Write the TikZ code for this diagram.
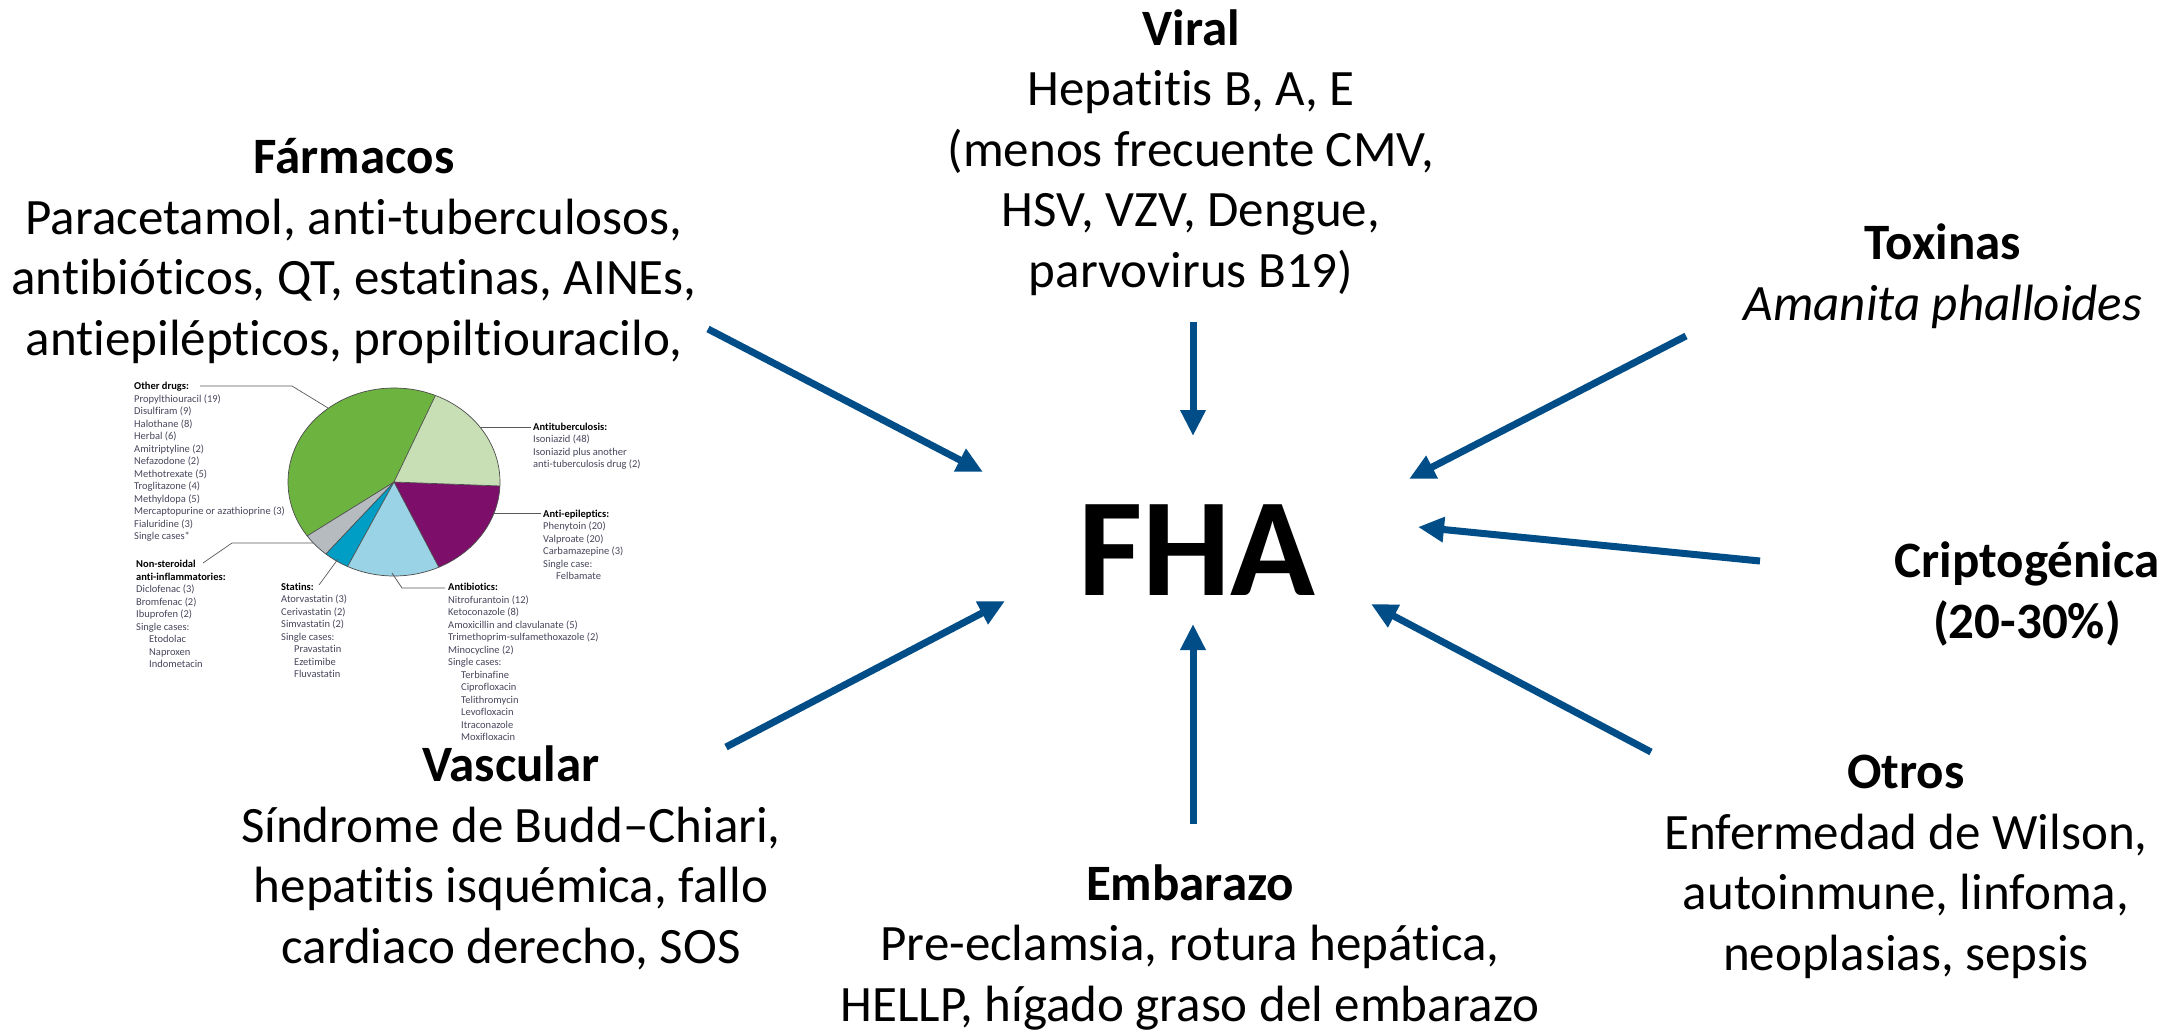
\documentclass[tikz,border=0pt]{standalone}
\usepackage{fontspec}
\setmainfont{Carlito}[Ligatures=NoCommon]
\usetikzlibrary{arrows.meta}

\definecolor{flecha}{RGB}{0,77,136}
\definecolor{verde}{RGB}{109,179,63}
\definecolor{verdeclaro}{RGB}{200,223,181}
\definecolor{morado}{RGB}{125,15,107}
\definecolor{celeste}{RGB}{154,211,229}
\definecolor{turquesa}{RGB}{0,157,196}
\definecolor{grisclaro}{RGB}{181,187,191}
\definecolor{txtgris}{RGB}{70,70,92}

\begin{document}
\begin{tikzpicture}[x=1pt,y=-1pt,
    causa/.style={anchor=base,align=center,inner sep=0pt,font=\fontsize{51}{60.5}\selectfont},
    flechaazul/.style={flecha,line width=7pt,-{Triangle[length=26pt,width=24pt]}},
    etiq/.style={anchor=base west,align=left,inner sep=0pt,font=\fontsize{10.5}{12.5}\selectfont,text=txtgris},
    borde/.style={draw=black!70,line width=0.7pt},
    guia/.style={black!65,line width=0.7pt}]
    \useasboundingbox (0,0) rectangle (2176,1031);

    % centro
    \node[font=\fontsize{140}{140}\selectfont\bfseries] (fha) at (1197,550) {FHA};

    % causas (base = ultima linea)
    \node[causa] (viral) at (1191,287) {\textbf{Viral}\\Hepatitis B, A, E\\(menos frecuente CMV,\\HSV, VZV, Dengue,\\parvovirus B19)};
    \node[causa] (farmacos) at (354,355) {\textbf{Fármacos}\\Paracetamol, anti-tuberculosos,\\antibióticos, QT, estatinas, AINEs,\\antiepilépticos, propiltiouracilo,};
    \node[causa] (toxinas) at (1943,320) {\textbf{Toxinas}\\\textit{Amanita phalloides}};
    \node[causa] (cripto) at (2027,638) {\textbf{Criptogénica}\\\textbf{(20-30\%)}};
    \node[causa] (otros) at (1906,970) {\textbf{Otros}\\Enfermedad de Wilson,\\autoinmune, linfoma,\\neoplasias, sepsis};
    \node[causa] (embarazo) at (1190,1021) {\textbf{Embarazo}\\Pre-eclamsia, rotura hepática,\\HELLP, hígado graso del embarazo};
    \node[causa] (vascular) at (511,963) {\textbf{Vascular}\\Síndrome de Budd--Chiari,\\hepatitis isquémica, fallo\\cardiaco derecho, SOS};

    % flechas
    \coordinate (farmA) at (708,329);  \coordinate (farmB) at (983,472);
    \coordinate (viraA) at (1193,322); \coordinate (viraB) at (1193,436);
    \coordinate (toxA) at (1686,336);  \coordinate (toxB) at (1409,479);
    \coordinate (cripA) at (1760,561); \coordinate (cripB) at (1418,527);
    \coordinate (otrA) at (1651,752);  \coordinate (otrB) at (1371,604);
    \coordinate (embA) at (1193,824);  \coordinate (embB) at (1193,624);
    \coordinate (vasA) at (726,747);   \coordinate (vasB) at (1005,601);
    \draw[flechaazul] (farmA) -- (farmB);
    \draw[flechaazul] (viraA) -- (viraB);
    \draw[flechaazul] (toxA) -- (toxB);
    \draw[flechaazul] (cripA) -- (cripB);
    \draw[flechaazul] (otrA) -- (otrB);
    \draw[flechaazul] (embA) -- (embB);
    \draw[flechaazul] (vasA) -- (vasB);

    % tarta de farmacos
    \begin{scope}[shift={(394,482)},y=1pt]
        \fill[verde] (0,0) -- (67:106 and 94) arc[start angle=67,end angle=215,x radius=106,y radius=94] -- cycle;
        \fill[grisclaro] (0,0) -- (215:106 and 94) arc[start angle=215,end angle=230,x radius=106,y radius=94] -- cycle;
        \fill[turquesa] (0,0) -- (230:106 and 94) arc[start angle=230,end angle=244,x radius=106,y radius=94] -- cycle;
        \fill[celeste] (0,0) -- (244:106 and 94) arc[start angle=244,end angle=295,x radius=106,y radius=94] -- cycle;
        \fill[morado] (0,0) -- (295:106 and 94) arc[start angle=295,end angle=357.6,x radius=106,y radius=94] -- cycle;
        \fill[verdeclaro] (0,0) -- (357.6:106 and 94) arc[start angle=357.6,end angle=427,x radius=106,y radius=94] -- cycle;
        \foreach \a in {67,215,230,244,295,357.6}
            \draw[borde] (0,0) -- (\a:106 and 94);
        \draw[borde] (0,0) ellipse [x radius=106,y radius=94];
    \end{scope}

    \node[etiq] (otras) at (134,539.5) {\textbf{\color{black}Other drugs:}\\Propylthiouracil (19)\\Disulfiram (9)\\Halothane (8)\\Herbal (6)\\Amitriptyline (2)\\Nefazodone (2)\\Methotrexate (5)\\Troglitazone (4)\\Methyldopa (5)\\Mercaptopurine or azathioprine (3)\\Fialuridine (3)\\Single cases*};
    \node[etiq] (antitb) at (533,467.5) {\textbf{\color{black}Antituberculosis:}\\Isoniazid (48)\\Isoniazid plus another\\anti-tuberculosis drug (2)};
    \node[etiq] (antiep) at (543,579.5) {\textbf{\color{black}Anti-epileptics:}\\Phenytoin (20)\\Valproate (20)\\Carbamazepine (3)\\Single case:\\\hspace*{13pt}Felbamate};
    \node[etiq] (aines) at (136,667.5) {\textbf{\color{black}Non-steroidal}\\\textbf{\color{black}anti-inflammatories:}\\Diclofenac (3)\\Bromfenac (2)\\Ibuprofen (2)\\Single cases:\\\hspace*{13pt}Etodolac\\\hspace*{13pt}Naproxen\\\hspace*{13pt}Indometacin};
    \node[etiq] (estatinas) at (281,677.5) {\textbf{\color{black}Statins:}\\Atorvastatin (3)\\Cerivastatin (2)\\Simvastatin (2)\\Single cases:\\\hspace*{13pt}Pravastatin\\\hspace*{13pt}Ezetimibe\\\hspace*{13pt}Fluvastatin};
    \node[etiq] (antibio) at (448,740.5) {\textbf{\color{black}Antibiotics:}\\Nitrofurantoin (12)\\Ketoconazole (8)\\Amoxicillin and clavulanate (5)\\Trimethoprim-sulfamethoxazole (2)\\Minocycline (2)\\Single cases:\\\hspace*{13pt}Terbinafine\\\hspace*{13pt}Ciprofloxacin\\\hspace*{13pt}Telithromycin\\\hspace*{13pt}Levofloxacin\\\hspace*{13pt}Itraconazole\\\hspace*{13pt}Moxifloxacin};

    \draw[guia] (328,408) -- (292,386) -- (200,386);
    \draw[guia] (480,427) -- (531,427);
    \draw[guia] (493,513) -- (541,513);
    \draw[guia] (313,543) -- (232,543) -- (203,563);
    \draw[guia] (338,559) -- (319,585);
    \draw[guia] (392,573) -- (402,588) -- (445,588);
\end{tikzpicture}
\end{document}
